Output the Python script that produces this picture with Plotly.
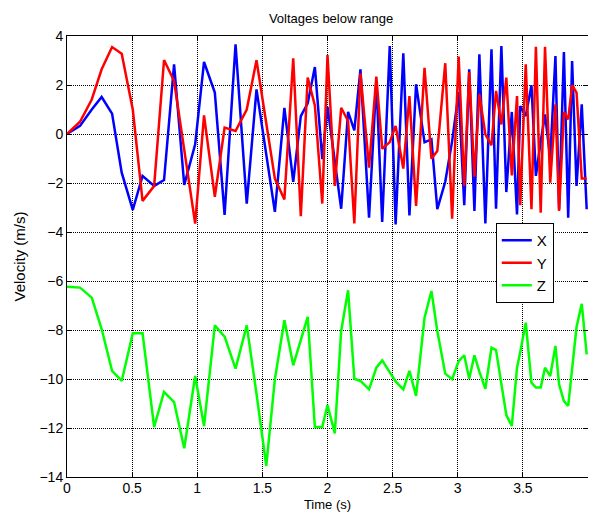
import plotly.graph_objects as go

time_s = [0, 0.10, 0.19, 0.266, 0.346, 0.42, 0.505, 0.58, 0.669, 0.745, 0.822, 0.90, 0.984,
          1.052, 1.135, 1.21, 1.294, 1.38, 1.455, 1.53, 1.596, 1.669, 1.737, 1.795, 1.848,
          1.903, 1.96, 2.0, 2.056, 2.105, 2.158, 2.206, 2.253, 2.319, 2.375, 2.42, 2.478,
          2.523, 2.582, 2.629, 2.68, 2.745, 2.798, 2.843, 2.904, 2.957, 3.007, 3.05, 3.088,
          3.128, 3.166, 3.212, 3.259, 3.294, 3.335, 3.373, 3.415, 3.455, 3.48, 3.522, 3.566,
          3.60, 3.637, 3.67, 3.71, 3.75, 3.778, 3.815, 3.848, 3.878, 3.912, 3.952, 3.99]

vel_x = [0, 0.33, 1.0, 1.51, 0.83, -1.58, -3.1, -1.71, -2.12, -1.88, 2.84, -2.08, -0.42,
         2.94, 1.69, -3.3, 3.66, -2.84, 1.82, -0.9, -3.18, 1.07, -1.95, 0.73, 1.25,
         2.73, -1.03, 1.11, -1.1, -3.05, 0.9, 0.15, 2.64, -3.42, 2.16, -3.59, 3.59,
         -3.69, 3.29, -3.32, 2.03, -0.34, -0.22, -3.07, -1.95, -0.29, 1.71, -2.91, 2.64,
         -3.14, 3.25, -3.65, 3.46, -3.05, 3.59, -2.37, 0.9, -3.28, 1.14, 0.73, 1.99,
         -1.71, -0.3, 0.8, -1.0, 3.18, -3.07, 3.35, -3.42, 2.98, -2.12, 1.21, -3.07]

vel_y = [0, 0.5, 1.41, 2.64, 3.55, 3.28, 1.0, -2.73, -2.12, 3.02, 2.16, -0.65, -3.66,
         0.76, -2.56, 0.26, 0.12, 1.0, 3.01, 0.44, -1.82, -2.67, 3.09, -3.35, 2.30,
         1.17, -2.84, 3.22, -2.12, 1.07, 0.53, -3.65, 2.48, -1.37, 2.34, -0.6, -0.33,
         0.33, -1.41, 1.55, -2.94, 2.7, -1.01, -0.69, 2.89, -3.46, 3.16, -2.12, 2.53,
         -1.74, 1.62, -0.01, -0.46, 1.76, 0.39, 2.3, -1.69, 1.55, -2.91, 2.84, -3.07,
         3.56, -3.21, 3.56, -1.99, 1.21, -3.14, 0.9, 0.6, 1.99, 1.69, -1.82, -1.82]

vel_z = [-6.23, -6.27, -6.68, -7.96, -9.67, -10.08, -8.13, -8.13, -11.96, -10.53, -10.94, -12.83, -9.88,
         -11.92, -7.81, -8.27, -9.58, -7.81, -10.6, -13.55, -10.01, -7.6, -9.44, -8.43, -7.46,
         -11.96, -11.96, -11.06, -12.22, -8.04, -6.38, -9.99, -10.08, -10.42, -9.54, -9.24, -9.7,
         -10.1, -10.42, -9.67, -10.69, -7.5, -6.41, -8.04, -9.78, -10.01, -9.27, -9.03, -9.99,
         -9.03, -9.7, -10.4, -8.72, -8.82, -10.2, -11.47, -11.92, -9.54, -8.9, -7.7, -10.15,
         -10.35, -10.35, -9.54, -9.88, -8.65, -10.22, -10.9, -11.1, -9.5, -7.88, -6.93, -8.99]

series_names = ["X", "Y", "Z"]
series_colors = ["#0000FF", "#FF0000", "#00FF00"]

x_ticks = [0, 0.5, 1, 1.5, 2, 2.5, 3, 3.5, 4]
x_tick_labels = ["0", "0.5", "1", "1.5", "2", "2.5", "3", "3.5", "4"]
y_ticks = [4, 2, 0, -2, -4, -6, -8, -10, -12, -14]

FONT = "Liberation Sans, Arial, sans-serif"

fig = go.Figure()
for name, vals, col in zip(series_names, [vel_x, vel_y, vel_z], series_colors):
    fig.add_trace(go.Scatter(x=time_s, y=vals, mode="lines", name=name,
                             line=dict(color=col, width=2.5)))

axis_common = dict(
    showline=True, linecolor="black", linewidth=1, mirror="allticks",
    ticks="inside", ticklen=5, tickcolor="black",
    showgrid=True, gridcolor="black", griddash="1px,1px", gridwidth=1,
    zeroline=False, automargin=False,
    tickfont=dict(family=FONT, size=14, color="black"),
)

fig.update_layout(
    width=580, height=504,
    margin=dict(l=59, r=0, t=28, b=35),
    paper_bgcolor="white", plot_bgcolor="white",
    font=dict(family=FONT, color="black"),
    title=dict(text="Voltages below range", x=0.557, xanchor="center", y=0.98, yanchor="middle",
               font=dict(family=FONT, size=13, color="black")),
    xaxis=dict(range=[0, 4], tickvals=x_ticks, ticktext=x_tick_labels, ticklabelstandoff=-2,
               title=dict(text="Time (s)", font=dict(family=FONT, size=13)),
               **axis_common),
    yaxis=dict(range=[-14, 4], tickvals=y_ticks,
               title=dict(text="Velocity (m/s)", font=dict(family=FONT, size=15), standoff=10),
               **axis_common),
    legend=dict(x=0.823, y=0.576, xanchor="left", yanchor="top",
                bgcolor="white", bordercolor="black", borderwidth=1,
                font=dict(family=FONT, size=15, color="black")),
    showlegend=True,
)

fig.write_html("out.html")
